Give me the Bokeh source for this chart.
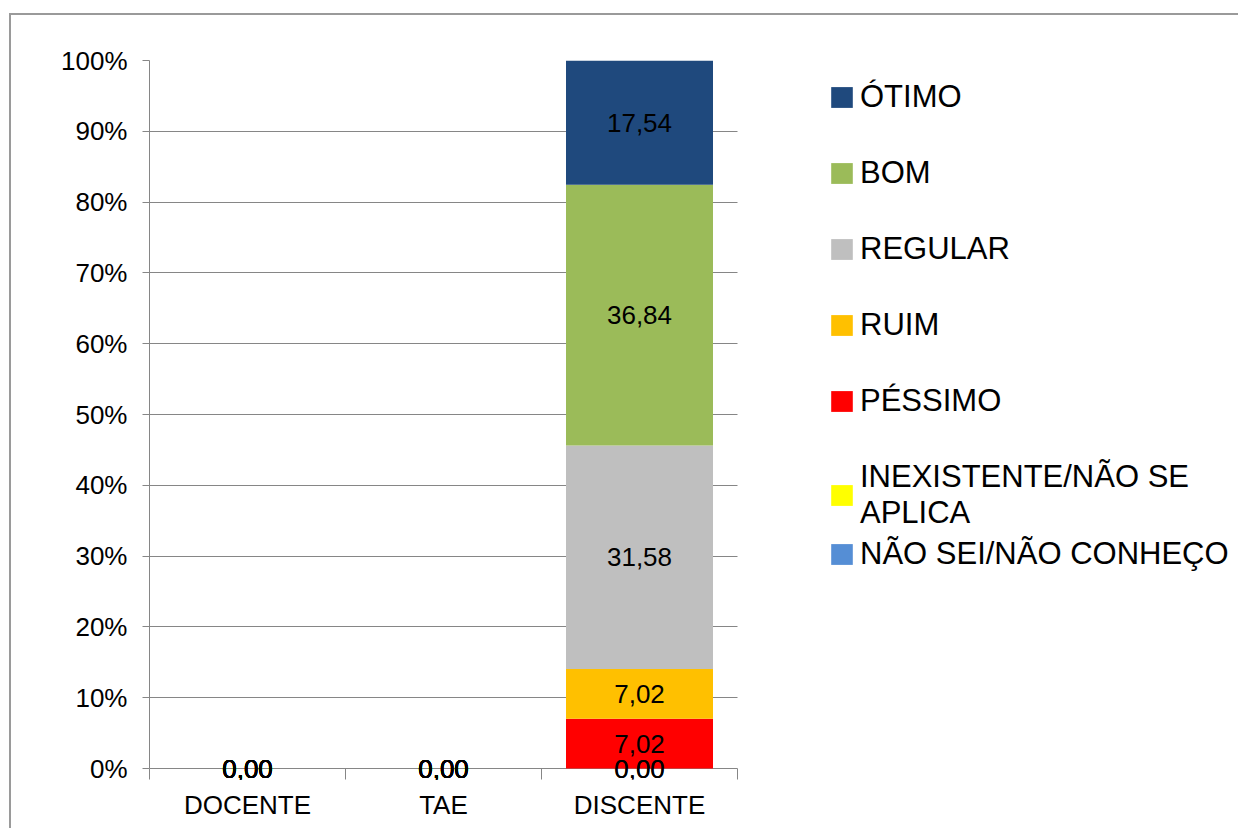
import numpy as np
from bokeh.plotting import figure
from bokeh.models import (ColumnDataSource, Range1d, FixedTicker, PrintfTickFormatter,
                          Legend, LegendItem)
from bokeh.core.properties import value
from bokeh.embed import file_html
from bokeh.resources import INLINE

# ---------------- data ----------------
categories = ["DOCENTE", "TAE", "DISCENTE"]
# series from bottom of the stack to top
series = ["NÃO SEI/NÃO CONHEÇO", "INEXISTENTE/NÃO SE\nAPLICA", "PÉSSIMO", "RUIM",
          "REGULAR", "BOM", "ÓTIMO"]
nao_sei = [0.00, 0.00, 0.00]
inexistente = [0.00, 0.00, 0.00]
pessimo = [0.00, 0.00, 7.02]
ruim = [0.00, 0.00, 7.02]
regular = [0.00, 0.00, 31.58]
bom = [0.00, 0.00, 36.84]
otimo = [0.00, 0.00, 17.54]
colors = ["#558ED5", "#FFFF00", "#FF0000", "#FFC000", "#BFBFBF", "#9BBB59", "#1F497D"]
y_ticks = [0, 10, 20, 30, 40, 50, 60, 70, 80, 90, 100]

FONT = "Liberation Sans"
GRAY = "#868686"

values = [nao_sei, inexistente, pessimo, ruim, regular, bom, otimo]
keys = [f"s{i}" for i in range(len(series))]
ncat = len(categories)
xpos = [i + 0.5 for i in range(ncat)]

data = {"x": xpos}
for k, v in zip(keys, values):
    data[k] = v
source = ColumnDataSource(data)

# layout (pixels): the plotting frame also hosts the legend area on the right
W, H = 1229, 815
B_LEFT, B_TOP, B_BOTTOM = 138, 45, 51
PAD0 = 11                          # room below the 0% line for the zero labels
CAT_PX = 196                       # width of one category slot
frame_w = W - B_LEFT
x_end = frame_w / CAT_PX
plot_h = H - B_TOP - B_BOTTOM - PAD0
y_start = -PAD0 * 100.0 / plot_h

p = figure(width=W, height=H, output_backend="svg", toolbar_location=None,
           x_range=Range1d(0, x_end), y_range=Range1d(y_start, 100),
           min_border_left=B_LEFT, min_border_right=0, min_border_top=B_TOP,
           min_border_bottom=B_BOTTOM)
p.outline_line_color = None
p.background_fill_color = "white"
p.border_fill_color = "white"
p.styles = {"margin-left": "9px", "margin-top": "13px",
            "border-top": "2px solid #9a9a9a", "border-left": "2px solid #9a9a9a"}

renderers = p.vbar_stack(keys, x="x", width=0.75, source=source,
                         fill_color=colors, line_color=None)

# data labels
arr = np.array(values, dtype=float)
bottoms = np.vstack([np.zeros(arr.shape[1]), np.cumsum(arr, axis=0)[:-1]])
centers = bottoms + arr / 2
lx, ly, lt = [], [], []
for si in range(arr.shape[0]):
    for ci in range(arr.shape[1]):
        lx.append(xpos[ci])
        ly.append(centers[si, ci])
        lt.append(f"{arr[si, ci]:.2f}".replace(".", ","))
lab_src = ColumnDataSource(dict(x=lx, y=ly, t=lt))
p.text(x="x", y="y", text="t", source=lab_src, text_font=value(FONT),
       text_font_size="26px", text_align="center", text_baseline="middle",
       text_color="black")

# grid & axes
p.xgrid.visible = False
p.ygrid.grid_line_color = GRAY
p.ygrid.grid_line_width = 1
p.ygrid.cross_bounds = (0, ncat)
p.yaxis.ticker = FixedTicker(ticks=y_ticks)
p.yaxis.bounds = (0, 100)
p.yaxis.formatter = PrintfTickFormatter(format="%d%%")
p.yaxis.axis_line_color = GRAY
p.yaxis.major_tick_line_color = GRAY
p.yaxis.major_tick_out = 7
p.yaxis.major_tick_in = 0
p.yaxis.minor_tick_line_color = None
p.yaxis.major_label_standoff = 15
p.yaxis.major_label_text_font = FONT
p.yaxis.major_label_text_font_size = "26px"
p.yaxis.major_label_text_color = "black"

# x axis sits at the frame bottom; the 0% grid line serves as its line,
# the boundary ticks reach up to it
p.xaxis.bounds = (0, ncat)
p.xaxis.ticker = FixedTicker(ticks=xpos, minor_ticks=list(range(ncat + 1)))
p.xaxis.major_label_overrides = {x: c for x, c in zip(xpos, categories)}
p.xaxis.axis_line_color = None
p.xaxis.major_tick_line_color = None
p.xaxis.major_tick_out = 0
p.xaxis.major_tick_in = 0
p.xaxis.minor_tick_line_color = GRAY
p.xaxis.minor_tick_out = 0
p.xaxis.minor_tick_in = PAD0
p.xaxis.major_label_standoff = 10
p.xaxis.major_label_text_font = FONT
p.xaxis.major_label_text_font_size = "26px"
p.xaxis.major_label_text_color = "black"

# legends (top-to-bottom order = reverse of stack)
order = list(range(len(series) - 1, -1, -1))

def make_legend(idx, loc):
    items = [LegendItem(label=series[i], renderers=[renderers[i]]) for i in idx]
    return Legend(items=items, location=loc, orientation="vertical",
                  glyph_width=27, glyph_height=26, label_standoff=5,
                  label_height=36,
                  label_text_font=FONT, label_text_font_size="31px",
                  label_text_color="black", spacing=40, padding=0, margin=0,
                  border_line_color=None, background_fill_alpha=0)

p.add_layout(make_legend(order[:5], (679, 360)), "center")
p.add_layout(make_legend(order[5:6], (679, 248)), "center")
p.add_layout(make_legend(order[6:], (679, 207)), "center")

open("out.html", "w").write(file_html(p, INLINE))
